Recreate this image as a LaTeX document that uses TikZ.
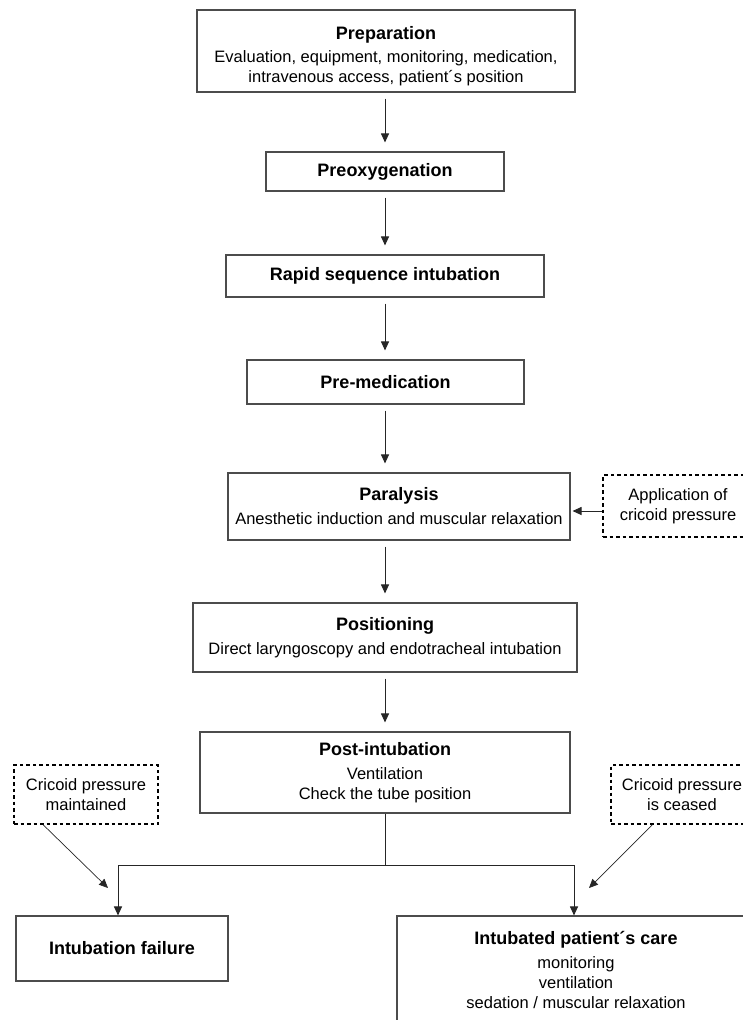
\documentclass[tikz,border=0pt]{standalone}
\usepackage{fontspec}
\setmainfont{Liberation Sans}
\usetikzlibrary{arrows.meta,calc}
\definecolor{boxgray}{gray}{0.3}
\newcommand{\mytitle}[1]{{\fontsize{18}{22}\selectfont\bfseries #1}}
\begin{document}
\begin{tikzpicture}[x=1pt,y=-1pt,
  box/.style={draw=boxgray, line width=1.1pt, align=center, inner sep=0pt,
    font=\fontsize{16.5}{20}\selectfont},
  dbox/.style={draw=black, line width=1.6pt, dash pattern=on 3.5pt off 3pt,
    align=center, inner sep=0pt, font=\fontsize{16.5}{20}\selectfont},
  arr/.style={-{Triangle[length=9pt,width=8pt]}, line width=1pt, draw=black!85},
  link/.style={line width=1pt, draw=black!85}]
\useasboundingbox (0,0) rectangle (743,1020);
\clip (0,0) rectangle (743,1020);

\node[box, minimum width=378pt, minimum height=82pt] (prep) at (386,51)
  {\rule{0pt}{23pt}\mytitle{Preparation}\\[3pt] Evaluation, equipment, monitoring, medication,\\ intravenous access, patient´s position};
\node[box, minimum width=238pt, minimum height=39pt] (preox) at (385,171.5)
  {\mytitle{Preoxygenation}};
\node[box, minimum width=318pt, minimum height=42pt] (rapid) at (385,276)
  {\mytitle{Rapid sequence intubation}};
\node[box, minimum width=277pt, minimum height=44pt] (premed) at (385.5,382)
  {\mytitle{Pre-medication}};
\node[box, minimum width=342pt, minimum height=67pt] (paral) at (399,506.5)
  {\mytitle{Paralysis}\\[4pt] Anesthetic induction and muscular relaxation};
\node[dbox, minimum width=150pt, minimum height=62pt] (apply) at (678,506)
  {Application of\\ cricoid pressure};
\node[box, minimum width=384pt, minimum height=69pt] (posit) at (385,637.5)
  {\mytitle{Positioning}\\[4pt] Direct laryngoscopy and endotracheal intubation};
\node[box, minimum width=370pt, minimum height=81pt] (post) at (385,772.5)
  {\mytitle{Post-intubation}\\[4pt] Ventilation\\ Check the tube position};
\node[dbox, minimum width=144pt, minimum height=59pt] (lcp) at (86,794.5)
  {Cricoid pressure\\ maintained};
\node[dbox, minimum width=142pt, minimum height=59pt] (rcp) at (682,794.5)
  {Cricoid pressure\\ is ceased};
\node[box, minimum width=212pt, minimum height=65pt] (fail) at (122,948.5)
  {\mytitle{Intubation failure}};
\node[box, minimum width=358pt, minimum height=108pt] (care) at (576,970)
  {\mytitle{Intubated patient´s care}\\[4pt] monitoring\\ ventilation\\ sedation / muscular relaxation};

\draw[arr, shorten <=6pt, shorten >=9pt] (preox.north |- prep.south) -- (preox.north);
\draw[arr, shorten <=6pt, shorten >=9pt] (preox.south) -- (preox.south |- rapid.north);
\draw[arr, shorten <=6pt, shorten >=9pt] (rapid.south) -- (rapid.south |- premed.north);
\draw[arr, shorten <=6pt, shorten >=9pt] (rapid.south |- premed.south) -- (rapid.south |- paral.north);
\draw[arr, shorten <=6pt, shorten >=9pt] (rapid.south |- paral.south) -- (posit.north);
\draw[arr, shorten <=6pt, shorten >=9pt] (posit.south) -- (post.north);
\draw[arr, shorten >=2pt] ($(apply.west)+(0,5)$) -- ($(paral.east |- apply.west)+(0,5)$);

\coordinate (bl) at (118,865);
\coordinate (brr) at (574,865);
\draw[arr] (post.south) |- (bl) -- (bl |- fail.north);
\draw[link] (post.south) |- (brr);
\draw[arr] (brr) -- (brr |- care.north);

\coordinate (lend) at (108,888);
\coordinate (rend) at (589,888);
\draw[arr, line width=0.7pt] ($(lcp.south west)+(30,0)$) -- (lend);
\draw[arr, line width=0.7pt] ($(rcp.south west)+(42,0)$) -- (rend);
\end{tikzpicture}
\end{document}
